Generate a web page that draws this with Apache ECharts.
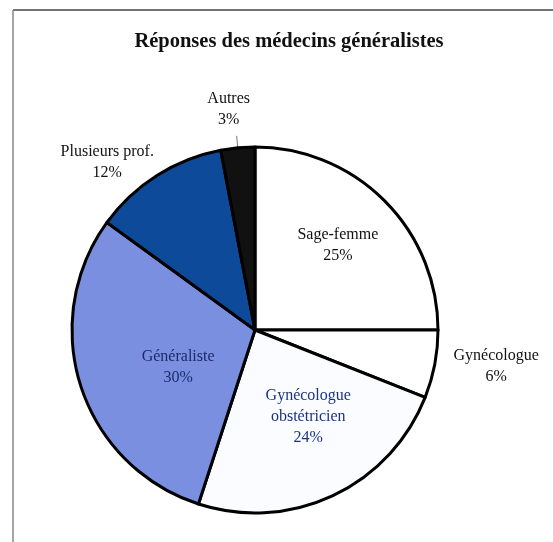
<!DOCTYPE html>
<html>
<head>
<meta charset="utf-8">
<script src="https://cdn.jsdelivr.net/npm/echarts@6/dist/echarts.min.js"></script>
<style>
  html, body { margin: 0; padding: 0; background: #fff; }
  #pie_dom { width: 553px; height: 542px; }
</style>
</head>
<body>
<div id="pie_dom"></div>
<script>
// catégories (dans le sens horaire depuis midi)
let categories = ['Sage-femme', 'Gynécologue', 'Gynécologue\nobstétricien', 'Généraliste', 'Plusieurs prof.', 'Autres']
// pourcentages
let values = [25, 6, 24, 30, 12, 3]

// couleurs des parts
let fills = ['#ffffff', '#ffffff', '#fbfcff', '#7b8fe0', '#0e4a9a', '#111111']
// couleur du texte
let textColors = ['#111', '#111', '#1c3480', '#1a2a6a', '#111', '#111']
// étiquettes à l'intérieur ou à l'extérieur
let inside = [true, false, true, true, false, false]
// petit décalage des étiquettes
let shifts = [[16, -18], [-5, -1], [13, 1], [13, 8], [10, -1], [-3, -6]]

let serif = '"Liberation Serif", "DejaVu Serif", serif'

let chartDom = document.getElementById('pie_dom');
let myChart = echarts.init(chartDom);

let data = categories.map((name, i) => ({
  name: name,
  value: values[i],
  itemStyle: { color: fills[i] },
  label: {
    position: inside[i] ? 'inside' : 'outside',
    color: textColors[i]
  },
  labelLine: {
    show: i === 5,
    length: i === 5 ? 12 : 15,
    length2: i === 1 ? 4 : 0,
    lineStyle: { color: '#777', width: 1 }
  }
}))

let option = {
  animation: false,
  backgroundColor: '#fff',
  title: {
    text: 'Réponses des médecins généralistes',
    left: 284,
    top: 26,
    textAlign: 'center',
    textStyle: {
      fontFamily: serif,
      fontWeight: 'bold',
      fontSize: 20.5,
      color: '#111'
    }
  },
  // cadre (haut et gauche)
  graphic: [
    { type: 'line', shape: { x1: 13, y1: 10, x2: 553, y2: 10 }, style: { stroke: '#444', lineWidth: 1.5 } },
    { type: 'line', shape: { x1: 13, y1: 10, x2: 13, y2: 542 }, style: { stroke: '#888', lineWidth: 1.5 } }
  ],
  series: [
    {
      type: 'pie',
      center: [255, 330],
      radius: 183,
      startAngle: 90,
      clockwise: true,
      avoidLabelOverlap: false,
      itemStyle: {
        borderColor: '#000',
        borderWidth: 3
      },
      label: {
        fontFamily: serif,
        fontSize: 16,
        lineHeight: 21,
        formatter: (p) => p.name.split('\n').map(s => '{t|' + s + '}').join('\n') + '\n{t|' + p.value + '%}',
        rich: {
          t: { fontFamily: serif, fontSize: 16, lineHeight: 21, align: 'center' }
        }
      },
      labelLayout: (params) => {
        let s = shifts[params.dataIndex]
        if (params.dataIndex === 5) {
          return { align: 'center', verticalAlign: 'bottom', dx: s[0], dy: s[1] }
        }
        return { dx: s[0], dy: s[1] }
      },
      emphasis: { disabled: true },
      data: data
    }
  ]
};

option && myChart.setOption(option);
</script>
</body>
</html>
